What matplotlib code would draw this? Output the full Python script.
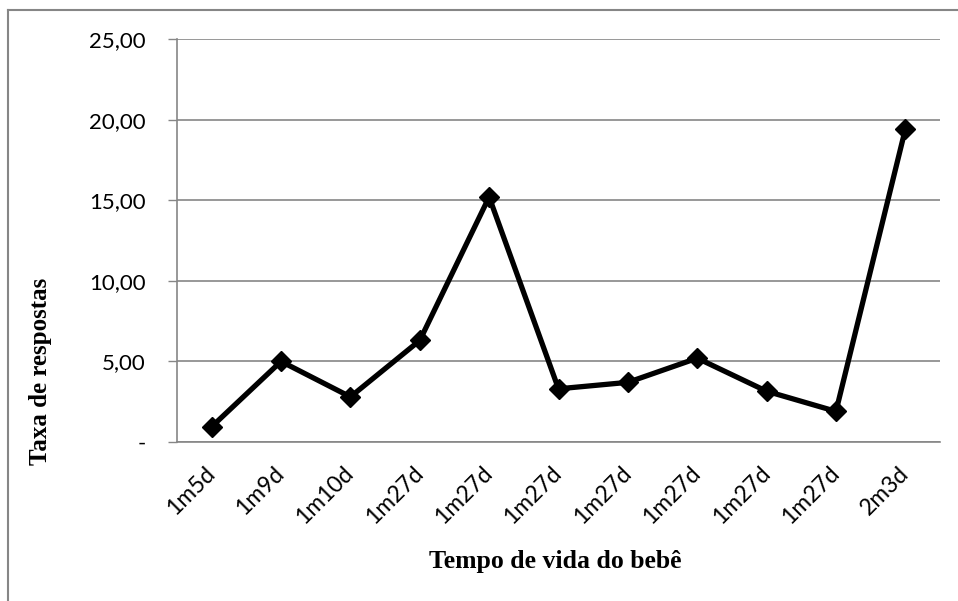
import matplotlib.pyplot as plt
from matplotlib.lines import Line2D

# === Dados ===
categorias = ['1m5d', '1m9d', '1m10d', '1m27d', '1m27d', '1m27d',
              '1m27d', '1m27d', '1m27d', '1m27d', '2m3d']
taxa = [0.95, 5.0, 2.8, 6.3, 15.2, 3.3, 3.7, 5.2, 3.15, 1.9, 19.4]
yticks = [0, 5, 10, 15, 20, 25]
ytick_labels = ['-', '5,00', '10,00', '15,00', '20,00', '25,00']
# ==============

W, H = 958, 601
fig = plt.figure(figsize=(W / 100, H / 100), dpi=100)
ax = fig.add_axes([177 / W, 1 - 442 / H, (940 - 177) / W, (442 - 39) / H])

x = list(range(len(categorias)))
ax.plot(x, taxa, color='black', lw=3.8, marker='D', ms=10,
        markeredgecolor='black', solid_joinstyle='miter', zorder=3)

ax.set_xlim(-0.5, len(categorias) - 0.5)
ax.set_ylim(0, 25)
ax.set_yticks(yticks)
ax.set_yticklabels(ytick_labels, fontsize=16, family='Lato')
ax.set_xticks(x)
ax.set_xticklabels(categorias, fontsize=16.5, family='Lato', rotation=45,
                   ha='right', va='center', rotation_mode='anchor')
ax.tick_params(axis='x', length=0, pad=20)
ax.tick_params(axis='y', length=6.5, width=1, color='#868686', pad=16)

ax.grid(axis='y', color='#868686', lw=1.2)
ax.set_axisbelow(True)
for s in ['top', 'right']:
    ax.spines[s].set_visible(False)
for s in ['left', 'bottom']:
    ax.spines[s].set_color('#868686')
    ax.spines[s].set_linewidth(1.2)

fig.text(555 / W, 1 - 568 / H, 'Tempo de vida do bebê', ha='center', va='baseline',
         fontsize=18.5, fontweight='bold', family='Liberation Serif')
fig.text(41 / W, 1 - 371 / H, 'Taxa de respostas', ha='center', va='center',
         rotation=90, fontsize=18, fontweight='bold', family='Liberation Serif')

# moldura do gráfico (topo e esquerda)
fig.add_artist(Line2D([8 / W, 1], [1 - 10 / H, 1 - 10 / H], color='#868686', lw=1.5))
fig.add_artist(Line2D([8 / W, 8 / W], [0, 1 - 10 / H], color='#868686', lw=1.5))

fig.savefig('out.png', dpi=100)
